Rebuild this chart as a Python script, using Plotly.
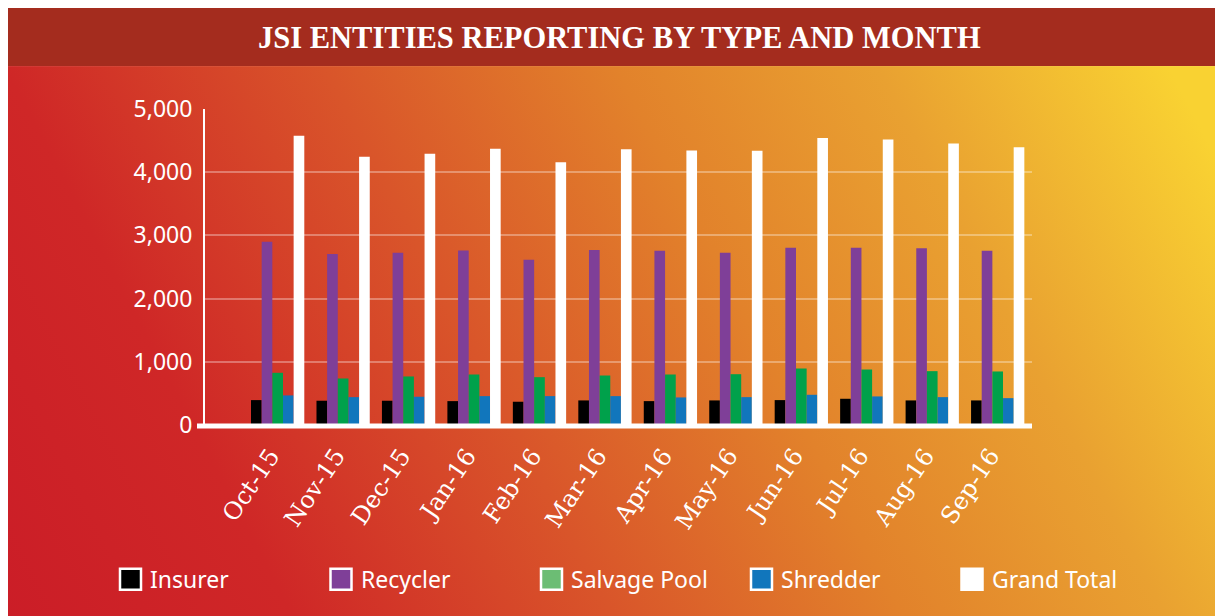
import base64
import plotly.graph_objects as go

# ---------------- data ----------------
months = ["Oct-15", "Nov-15", "Dec-15", "Jan-16", "Feb-16", "Mar-16",
          "Apr-16", "May-16", "Jun-16", "Jul-16", "Aug-16", "Sep-16"]
insurer = [394, 384, 384, 378, 368, 389, 378, 389, 394, 415, 389, 389]
recycler = [2900, 2706, 2727, 2763, 2616, 2769, 2758, 2727, 2806, 2806, 2795, 2758]
salvage_pool = [826, 736, 768, 799, 757, 783, 799, 804, 894, 878, 852, 847]
shredder = [468, 441, 447, 457, 457, 457, 436, 441, 478, 452, 441, 425]
grand_total = [4575, 4243, 4291, 4370, 4159, 4365, 4343, 4338, 4543, 4517, 4454, 4396]

series_names = ["Insurer", "Recycler", "Salvage Pool", "Shredder", "Grand Total"]
series_values = [insurer, recycler, salvage_pool, shredder, grand_total]
bar_colors = ["#000000", "#7f3f98", "#00a14b", "#1176bc", "#ffffff"]
legend_colors = ["#000000", "#7f3f98", "#6cbd74", "#1176bc", "#ffffff"]
y_ticks = [0, 1000, 2000, 3000, 4000, 5000]
title_text = "JSI ENTITIES REPORTING BY TYPE AND MONTH"

# ---------------- layout geometry ----------------
# the page body has an 8px margin, so the figure starts at screen (8, 8)
OFF = 8
W, H = 1223 - OFF, 616 - OFF
PLOT_L, PLOT_R, PLOT_T, PLOT_B = 205, 1032, 109, 425.5   # screen pixels
L, R, T, B = PLOT_L - OFF, W - (PLOT_R - OFF), PLOT_T - OFF, H - (PLOT_B - OFF)
PW, PH = W - L - R, H - T - B


def px_x(sx):
    return (sx - OFF - L) / PW


def px_y(sy):
    return (H - B - (sy - OFF)) / PH


# gradient background as an inline SVG image
svg = """<svg xmlns='http://www.w3.org/2000/svg' width='1217' height='550' viewBox='0 0 1217 550' preserveAspectRatio='none'>
<defs><linearGradient id='g' gradientUnits='userSpaceOnUse' x1='0' y1='550' x2='1125' y2='-41'>
<stop offset='0' stop-color='#cb1d27'/>
<stop offset='0.2' stop-color='#cf2727'/>
<stop offset='0.42' stop-color='#d9552a'/>
<stop offset='0.62' stop-color='#e2822b'/>
<stop offset='0.8' stop-color='#e9a131'/>
<stop offset='1' stop-color='#f9d232'/>
</linearGradient></defs>
<rect x='0' y='0' width='1217' height='550' fill='url(#g)'/>
</svg>"""
svg_uri = "data:image/svg+xml;base64," + base64.b64encode(svg.encode()).decode()

fig = go.Figure()
for name, vals, col in zip(series_names, series_values, bar_colors):
    fig.add_trace(go.Bar(name=name, x=months, y=vals, marker=dict(color=col, line=dict(width=0)),
                         showlegend=False))

shapes = [
    # title bar
    dict(type="rect", xref="paper", yref="paper", x0=px_x(6), x1=px_x(1240), y0=px_y(66), y1=px_y(6),
         fillcolor="#a42c1e", line=dict(width=0), layer="below"),
    # thick baseline
    dict(type="line", xref="paper", yref="paper", x0=px_x(197), x1=1, y0=px_y(426.5), y1=px_y(426.5),
         line=dict(color="white", width=5), layer="above"),
]
annotations = [
    dict(text=title_text, xref="paper", yref="paper", x=px_x(619), y=px_y(38), xanchor="center",
         yanchor="middle", showarrow=False,
         font=dict(family="Liberation Serif", size=30.5, color="white", weight="bold")),
]

# custom legend
legend_x = [120, 330.5, 541, 751, 961.5]
for lx, name, col in zip(legend_x, series_names, legend_colors):
    shapes.append(dict(type="rect", xref="paper", yref="paper", x0=px_x(lx), x1=px_x(lx + 21),
                       y0=px_y(590.5), y1=px_y(569.5), fillcolor=col,
                       line=dict(color="white", width=2.5)))
    annotations.append(dict(text=name, xref="paper", yref="paper", x=px_x(lx + 28), y=px_y(580),
                            xanchor="left", yanchor="middle", showarrow=False,
                            font=dict(family="Noto Sans", size=23, color="white")))

fig.update_layout(
    width=W, height=H,
    margin=dict(l=L, r=R, t=T, b=B, pad=0),
    paper_bgcolor="white",
    plot_bgcolor="rgba(0,0,0,0)",
    barmode="group", bargap=0.186, bargroupgap=0,
    showlegend=False,
    images=[dict(source=svg_uri, xref="paper", yref="paper", x=px_x(6), y=px_y(66),
                 sizex=(1240 - 6) / PW, sizey=560 / PH, xanchor="left", yanchor="top",
                 sizing="stretch", layer="below")],
    shapes=shapes,
    annotations=annotations,
    xaxis=dict(range=[-1.11, 11.524], showgrid=False, showline=False, zeroline=False,
               ticks="", tickangle=-56, ticklabelstandoff=11, ticklabelshift=-7,
               tickfont=dict(family="DejaVu Serif", size=24, color="white")),
    yaxis=dict(range=[0, 5000], tickvals=y_ticks, tickformat=",", showgrid=True,
               gridcolor="rgba(255,255,255,0.32)", gridwidth=2, zeroline=False,
               showline=True, linecolor="white", linewidth=2, ticks="", ticklabelstandoff=6,
               tickfont=dict(family="Noto Sans", size=23, color="white")),
)

fig.write_html("out.html")
